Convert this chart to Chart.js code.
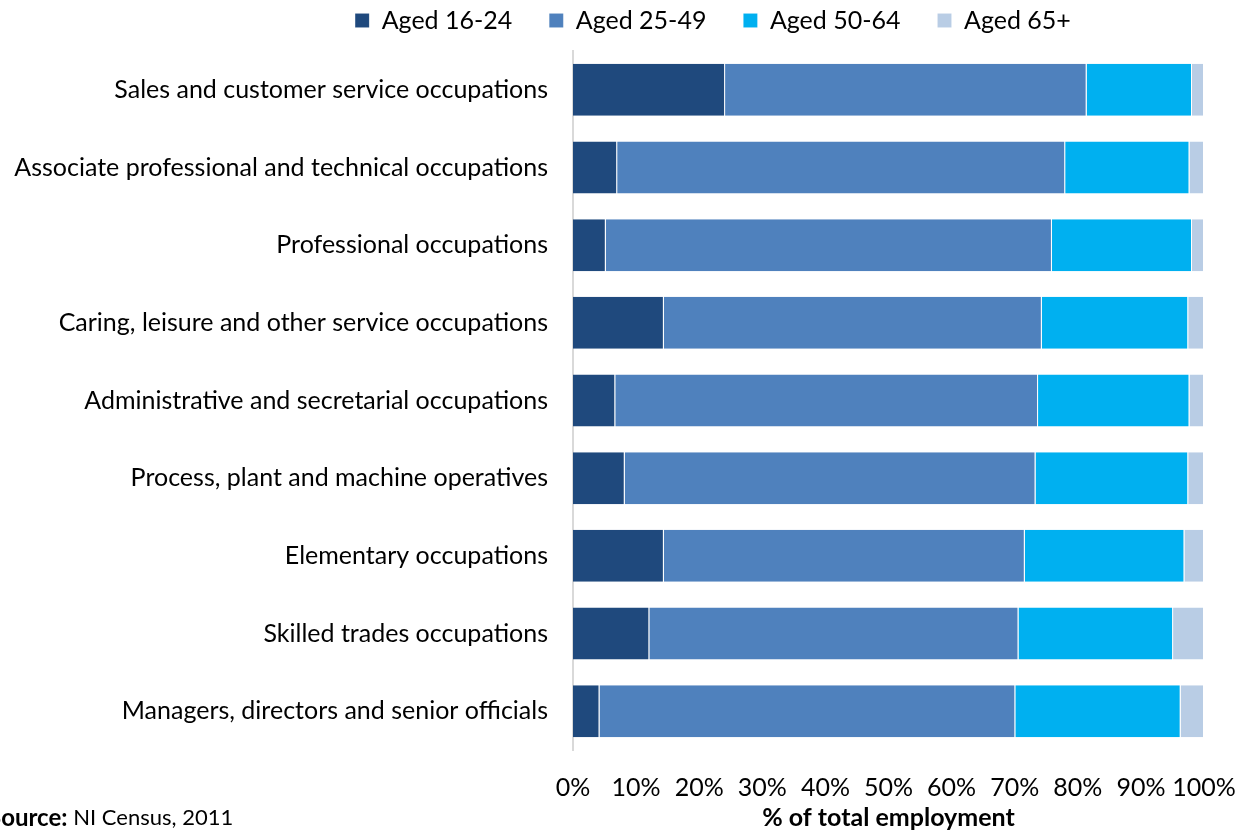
<!DOCTYPE html>
<html>
<head>
<meta charset="utf-8">
<script src="https://cdn.jsdelivr.net/npm/chart.js@4"></script>
<style>
  html, body { margin: 0; padding: 0; background: #fff; overflow: hidden; }
  #wrap { position: relative; width: 1238px; height: 830px; }
</style>
</head>
<body>
<div id="wrap"><canvas id="chart" width="1238" height="830"></canvas></div>
<script>
const occupations = [
    'Sales and customer service occupations',
    'Associate professional and technical occupations',
    'Professional occupations',
    'Caring, leisure and other service occupations',
    'Administrative and secretarial occupations',
    'Process, plant and machine operatives',
    'Elementary occupations',
    'Skilled trades occupations',
    'Managers, directors and senior officials'
];
const aged16to24 = [24.1, 7.0, 5.2, 14.4, 6.7, 8.2, 14.4, 12.1, 4.2];
const aged25to49 = [57.3, 71.0, 70.7, 59.9, 67.0, 65.1, 57.2, 58.5, 65.9];
const aged50to64 = [16.7, 19.7, 22.2, 23.2, 24.0, 24.2, 25.3, 24.5, 26.2];
const aged65plus = [1.9, 2.3, 1.9, 2.5, 2.3, 2.5, 3.1, 4.9, 3.7];
const seriesNames = ['Aged 16-24', 'Aged 25-49', 'Aged 50-64', 'Aged 65+'];
const seriesColors = ['#1F497D', '#4F81BD', '#00B0F0', '#B9CDE5'];
const xTicks = [0, 10, 20, 30, 40, 50, 60, 70, 80, 90, 100];

const FONT = 'Lato';

// legend: fixed height, and nudged (it sits off-centre in the original)
const legendTweak = {
    id: 'legendTweak',
    beforeLayout(chart) {
        const l = chart.legend;
        if (l && !l._tweaked) {
            const fit = l.fit;
            l.fit = function () { fit.call(this); this.height = 51; };
            l._tweaked = true;
        }
    },
    afterLayout(chart) {
        const l = chart.legend;
        l.left += 111;
        l.right += 111;
        l.top -= 29;   // bottom stays, so the clip box still covers the text
    }
};

const sourceNote = {
    id: 'sourceNote',
    afterDraw(chart) {
        const ctx = chart.ctx;
        ctx.save();
        ctx.fillStyle = '#000';
        ctx.textBaseline = 'middle';
        ctx.font = 'bold 24px ' + FONT;
        const x = -12;
        ctx.fillText('Source:', x, 818);
        const w = ctx.measureText('Source: ').width;
        ctx.font = '22px ' + FONT;
        ctx.fillText('NI Census, 2011', x + w, 818);
        ctx.restore();
    }
};

const datasets = [aged16to24, aged25to49, aged50to64, aged65plus].map((vals, i) => ({
    label: seriesNames[i],
    data: vals,
    backgroundColor: seriesColors[i],
    borderColor: 'rgba(255,255,255,0.35)',
    borderWidth: { left: 0, right: 1, top: 0, bottom: 0 },
    borderSkipped: false,
    categoryPercentage: 1,
    barPercentage: 0.67
}));

new Chart(document.getElementById('chart'), {
    type: 'bar',
    data: { labels: occupations, datasets },
    options: {
        indexAxis: 'y',
        responsive: false,
        animation: false,
        layout: { padding: { left: 0, right: 34, top: 0, bottom: 0 } },
        plugins: {
            legend: {
                position: 'top',
                labels: {
                    color: '#000',
                    font: { family: FONT, size: 25 },
                    boxWidth: 14,
                    boxHeight: 14,
                    padding: 37
                }
            },
            tooltip: { enabled: false }
        },
        scales: {
            x: {
                stacked: true,
                min: 0,
                max: 100,
                afterBuildTicks(axis) { axis.ticks = xTicks.map(v => ({ value: v })); },
                afterFit(axis) {
                    axis.height = 80;
                    axis.paddingLeft = 0;
                    axis.paddingRight = 0;
                },
                ticks: {
                    color: '#000',
                    font: { family: FONT, size: 25 },
                    padding: 23,
                    autoSkip: false,
                    maxRotation: 0,
                    callback: v => v + '%'
                },
                grid: { display: false, drawTicks: false },
                border: { display: false },
                title: {
                    display: true,
                    text: '% of total employment',
                    color: '#000',
                    font: { family: FONT, size: 25, weight: 'bold', lineHeight: 1 },
                    padding: { top: 4, bottom: 0 }
                }
            },
            y: {
                stacked: true,
                afterFit(axis) { axis.width = 573; },
                ticks: {
                    color: '#000',
                    font: { family: FONT, size: 25 },
                    padding: 25
                },
                grid: { display: false, drawTicks: false },
                border: { display: true, color: '#D9D9D9', width: 2 }
            }
        }
    },
    plugins: [legendTweak, sourceNote]
});
</script>
</body>
</html>
